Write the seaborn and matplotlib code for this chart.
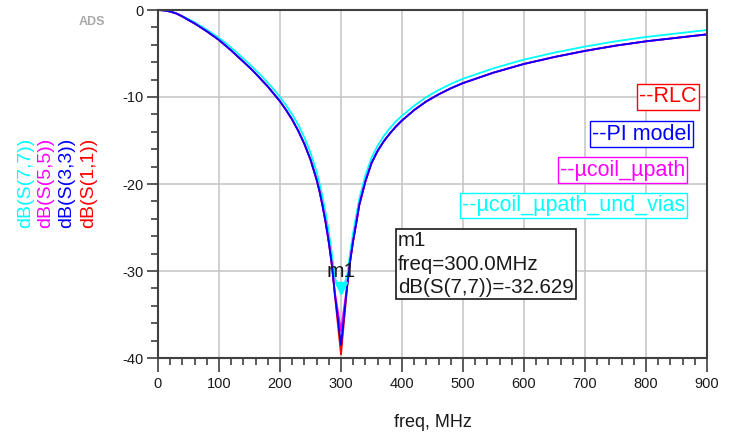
import pandas as pd
import matplotlib
matplotlib.use("Agg")
import matplotlib.pyplot as plt
from matplotlib.transforms import offset_copy
from matplotlib.ticker import MultipleLocator
import seaborn as sns

# frequency sweep (MHz) shared by all traces
freq = [0, 10, 20, 30, 40, 50, 60, 70, 80, 90, 100, 110, 120, 130, 140, 150,
        160, 170, 180, 190, 200, 210, 220, 230, 240, 250, 260, 265, 270, 275,
        280, 285, 290, 300, 310, 315, 320, 325, 330, 340, 350, 360, 370, 380,
        390, 400, 420, 440, 460, 480, 500, 550, 600, 650, 700, 750, 800, 850, 900]

# dB(S(1,1)) - RLC
s11_rlc = [0.0, -0.05, -0.18, -0.4, -0.75, -1.15, -1.55, -2.0, -2.45, -2.95,
           -3.45, -4.05, -4.65, -5.3, -5.95, -6.6, -7.3, -8.05, -8.8, -9.65,
           -10.5, -11.5, -12.6, -13.9, -15.4, -17.2, -19.5, -20.9, -22.6, -24.5,
           -26.7, -29.3, -32.8, -39.6, -31.9, -28.9, -26.5, -24.5, -22.4, -19.7,
           -17.6, -16.2, -15.1, -14.2, -13.4, -12.7, -11.5, -10.5, -9.7, -9.0,
           -8.4, -7.2, -6.2, -5.4, -4.7, -4.1, -3.6, -3.2, -2.8]

# dB(S(3,3)) - PI model
s33_pi = [0.0, -0.05, -0.18, -0.4, -0.75, -1.15, -1.55, -2.0, -2.45, -2.95,
          -3.45, -4.05, -4.65, -5.3, -5.95, -6.6, -7.3, -8.05, -8.8, -9.65,
          -10.5, -11.5, -12.6, -13.9, -15.4, -17.2, -19.5, -20.9, -22.6, -24.5,
          -26.7, -29.3, -32.7, -38.5, -31.8, -28.9, -26.5, -24.5, -22.4, -19.7,
          -17.6, -16.2, -15.1, -14.2, -13.4, -12.7, -11.5, -10.5, -9.7, -9.0,
          -8.4, -7.2, -6.2, -5.4, -4.7, -4.1, -3.6, -3.2, -2.8]

# dB(S(5,5)) - ucoil_upath
s55_coil = [0.0, -0.05, -0.18, -0.4, -0.75, -1.15, -1.55, -2.0, -2.45, -2.95,
            -3.45, -4.05, -4.65, -5.3, -5.95, -6.6, -7.3, -8.05, -8.8, -9.65,
            -10.5, -11.5, -12.6, -13.9, -15.4, -17.2, -19.5, -20.9, -22.6, -24.5,
            -26.7, -29.2, -32.5, -36.9, -31.6, -28.8, -26.5, -24.5, -22.4, -19.7,
            -17.6, -16.2, -15.1, -14.2, -13.4, -12.7, -11.5, -10.5, -9.7, -9.0,
            -8.4, -7.2, -6.2, -5.4, -4.7, -4.1, -3.6, -3.2, -2.8]

# dB(S(7,7)) - ucoil_upath_und_vias
s77_vias = [0.0, -0.05, -0.16, -0.36, -0.68, -1.05, -1.42, -1.84, -2.27, -2.73,
            -3.2, -3.75, -4.32, -4.95, -5.58, -6.22, -6.9, -7.6, -8.35, -9.15,
            -10.0, -10.95, -12.0, -13.2, -14.65, -16.4, -18.6, -20.0, -21.6, -23.4,
            -25.5, -28.0, -30.8, -32.629, -30.6, -27.9, -25.6, -23.6, -21.7, -19.0,
            -17.0, -15.6, -14.5, -13.6, -12.8, -12.15, -11.0, -10.0, -9.2, -8.5,
            -7.9, -6.7, -5.7, -4.9, -4.2, -3.6, -3.1, -2.7, -2.3]

trace_names = ["S77", "S11", "S55", "S33"]
trace_colors = {"S77": "#00ffff", "S11": "#ff0000", "S55": "#ff00ff", "S33": "#0000ff"}
legend_labels = ["--RLC", "--PI model", "--\u00b5coil_\u00b5path", "--\u00b5coil_\u00b5path_und_vias"]
legend_colors = ["#ff0000", "#0000ff", "#ff00ff", "#00ffff"]
axis_labels = ["dB(S(7,7))", "dB(S(5,5))", "dB(S(3,3))", "dB(S(1,1))"]
axis_label_colors = ["#00ffff", "#ff00ff", "#0000ff", "#ff0000"]

mark_freq = 300.0
mark_db = -32.629

df = pd.concat([
    pd.DataFrame({"freq": freq, "dB": s77_vias, "trace": "S77"}),
    pd.DataFrame({"freq": freq, "dB": s11_rlc, "trace": "S11"}),
    pd.DataFrame({"freq": freq, "dB": s55_coil, "trace": "S55"}),
    pd.DataFrame({"freq": freq, "dB": s33_pi, "trace": "S33"}),
])

sns.set_style("white")
plt.rcParams["font.family"] = ["Liberation Sans", "DejaVu Sans"]
plt.rcParams["axes.unicode_minus"] = False

fig = plt.figure(figsize=(7.32, 4.37), dpi=100)
ax = fig.add_axes([158 / 732, 1 - 358 / 437, 549 / 732, 348 / 437])

sns.lineplot(data=df, x="freq", y="dB", hue="trace", hue_order=trace_names,
             palette=trace_colors, estimator=None, linewidth=1.3, legend=False, ax=ax)

ax.set_xlim(0, 900)
ax.set_ylim(-40, 0)
ax.xaxis.set_major_locator(MultipleLocator(100))
ax.xaxis.set_minor_locator(MultipleLocator(20))
ax.yaxis.set_major_locator(MultipleLocator(10))
ax.yaxis.set_minor_locator(MultipleLocator(2))
ax.set_axisbelow(True)
ax.grid(True, which="major", color="#c8c8c8", linewidth=1.2)

for sp in ax.spines.values():
    sp.set_visible(True)
    sp.set_color("#404040")
    sp.set_linewidth(1.5)

ax.tick_params(which="both", direction="out", color="#404040", width=1.2,
               labelsize=10.5, labelcolor="#1a1a1a")
ax.tick_params(axis="y", which="major", length=8, pad=2)
ax.tick_params(axis="y", which="minor", length=5)
ax.tick_params(axis="x", which="major", length=10, pad=4)
ax.tick_params(axis="x", which="minor", length=5)
ax.tick_params(which="both", left=True, bottom=True)

ax.set_ylabel("")
ax.set_xlabel("freq, MHz", fontsize=13, color="#1a1a1a")
ax.xaxis.set_label_coords(0.5, -0.16)

# marker m1
tip = offset_copy(ax.transData, fig=fig, x=0, y=4.5, units="points")
ax.plot([mark_freq], [mark_db], marker="v", ms=9, color="#00ffff", transform=tip, clip_on=False)
ax.annotate("m1", xy=(mark_freq, mark_db), xytext=(0, 16), textcoords="offset points",
            ha="center", va="center", fontsize=15, color="#1a1a1a")
ax.text(398 / 732, 1 - 231 / 437,
        "m1\nfreq=%.1fMHz\ndB(S(7,7))=%.3f" % (mark_freq, mark_db),
        transform=fig.transFigure, ha="left", va="top", fontsize=14.8, color="#1a1a1a",
        linespacing=1.3,
        bbox=dict(boxstyle="square,pad=0.1", facecolor="white", edgecolor="#1a1a1a", linewidth=1.2))

# trace legend boxes
legend_x = [697, 691, 685, 685]
legend_y = [97, 134, 170, 205.5]
for lab, col, lx, ly in zip(legend_labels, legend_colors, legend_x, legend_y):
    fig.text(lx / 732, 1 - ly / 437, lab, ha="right", va="center", fontsize=15.5, color=col,
             bbox=dict(boxstyle="square,pad=0.1", facecolor="white", edgecolor=col, linewidth=1.0))

# stacked y-axis labels
label_x = [26, 46, 67, 89]
for lab, col, lx in zip(axis_labels, axis_label_colors, label_x):
    fig.text(lx / 732, 1 - 183 / 437, lab, rotation=90, ha="center", va="center",
             fontsize=14, color=col)

fig.text(92 / 732, 1 - 22 / 437, "ADS", ha="center", va="center", fontsize=9,
         fontweight="bold", color="#a8a8a8")

fig.savefig("out.png", dpi=100)
